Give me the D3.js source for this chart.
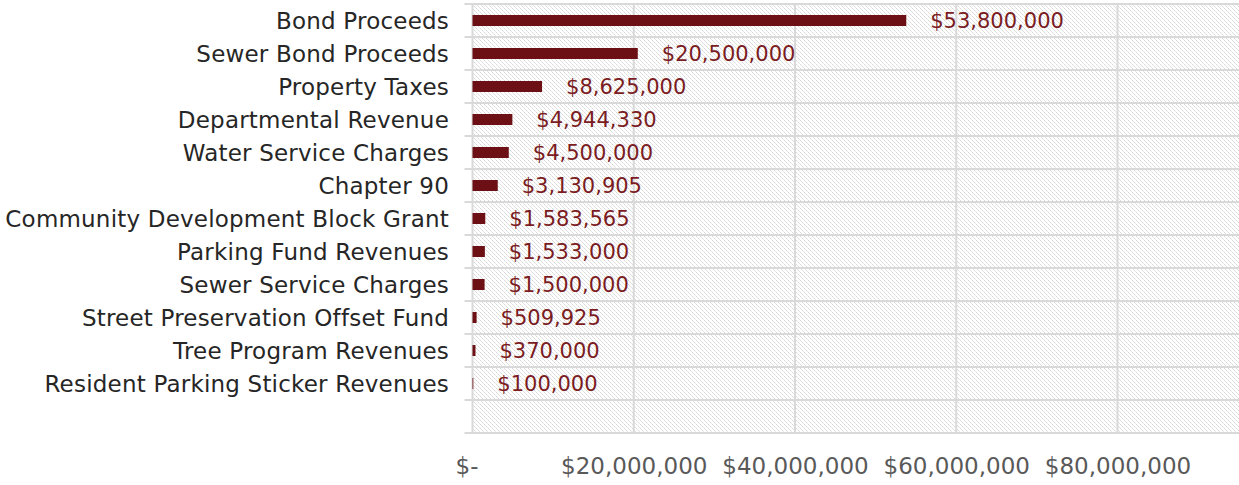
<!DOCTYPE html>
<html>
<head>
<meta charset="utf-8">
<script src="https://cdn.jsdelivr.net/npm/d3@7"></script>
<style>
  html, body { margin: 0; padding: 0; background: #ffffff; }
  svg { display: block; }
  text { font-family: "Century Gothic", "URW Gothic", "DejaVu Sans", sans-serif; }
</style>
</head>
<body>
<svg id="chart" width="1239" height="485"></svg>
<script>
// Revenue sources, top to bottom
const categories = [
  "Bond Proceeds",
  "Sewer Bond Proceeds",
  "Property Taxes",
  "Departmental Revenue",
  "Water Service Charges",
  "Chapter 90",
  "Community Development Block Grant",
  "Parking Fund Revenues",
  "Sewer Service Charges",
  "Street Preservation Offset Fund",
  "Tree Program Revenues",
  "Resident Parking Sticker Revenues"
];
const amounts = [
  53800000, 20500000, 8625000, 4944330, 4500000, 3130905,
  1583565, 1533000, 1500000, 509925, 370000, 100000
];
const tickValues = [0, 20000000, 40000000, 60000000, 80000000];

const plot = { left: 472.5, right: 1239, top: 4, bottom: 433 };
const svg = d3.select("#chart");

// pale diagonal hatch fill behind the plot
const defs = svg.append("defs");
const pat = defs.append("pattern")
  .attr("id", "hatch").attr("patternUnits", "userSpaceOnUse")
  .attr("width", 4).attr("height", 4);
pat.append("rect").attr("width", 4).attr("height", 4).attr("fill", "#ffffff");
[0, 1, 2, 3].forEach(i => {
  pat.append("rect").attr("x", i).attr("y", i).attr("width", 1).attr("height", 1)
    .attr("fill", i % 2 ? "#e4e4e4" : "#d8d8d8");
});

const x = d3.scaleLinear().domain([0, 100000000]).range([plot.left, 1278.75]);
// one blank slot below the last category
const slots = categories.concat([""]);
const y = d3.scaleBand().domain(slots.map((d, i) => i)).range([plot.top, plot.bottom]);

svg.append("rect")
  .attr("x", plot.left).attr("y", plot.top)
  .attr("width", plot.right - plot.left).attr("height", plot.bottom - plot.top)
  .attr("fill", "url(#hatch)").attr("shape-rendering", "crispEdges");

const grid = "#d9d9d9";
// horizontal lines between categories, extending left as tick marks
const bounds = d3.range(slots.length + 1).map(i => i < slots.length ? y(i) : y(slots.length - 1) + y.bandwidth());
svg.append("g").selectAll("line").data(bounds).join("line")
  .attr("x1", plot.left - 8).attr("x2", plot.right)
  .attr("y1", d => d).attr("y2", d => d)
  .attr("stroke", grid).attr("stroke-width", 2);

// vertical gridlines (value axis)
svg.append("g").selectAll("line").data(tickValues).join("line")
  .attr("x1", d => x(d)).attr("x2", d => x(d))
  .attr("y1", plot.top).attr("y2", plot.bottom)
  .attr("stroke", grid).attr("stroke-width", 2);

// bars
const barH = 11;
svg.append("g").selectAll("rect").data(amounts).join("rect")
  .attr("x", x(0))
  .attr("y", (d, i) => y(i) + y.bandwidth() / 2 - barH / 2)
  .attr("width", d => x(d) - x(0))
  .attr("height", barH)
  .attr("fill", "#6c1015");

// value labels
const money = d3.format("$,.0f");
svg.append("g").selectAll("text").data(amounts).join("text")
  .attr("x", d => x(d) + 24)
  .attr("y", (d, i) => y(i) + y.bandwidth() / 2)
  .attr("dy", "0.36em")
  .attr("font-size", 21)
  .attr("fill", "#7a1c22")
  .text(d => money(d));

// category labels
svg.append("g").selectAll("text").data(categories).join("text")
  .attr("x", 449)
  .attr("y", (d, i) => y(i) + y.bandwidth() / 2)
  .attr("dy", "0.36em")
  .attr("text-anchor", "end")
  .attr("font-size", 23)
  .attr("letter-spacing", 0.2)
  .attr("fill", "#262626")
  .text(d => d);

// value axis labels
const xAxis = d3.axisBottom(x).tickValues(tickValues).tickSize(0).tickPadding(0)
  .tickFormat(d => d === 0 ? "$-" : money(d));
const ax = svg.append("g").attr("transform", `translate(0,${plot.bottom + 33})`).call(xAxis);
ax.select(".domain").remove();
ax.selectAll("text")
  .attr("font-size", 23)
  .attr("fill", "#595959")
  .attr("dy", "0.36em")
  .attr("dx", d => d === 0 ? -6 : 0);
</script>
</body>
</html>
